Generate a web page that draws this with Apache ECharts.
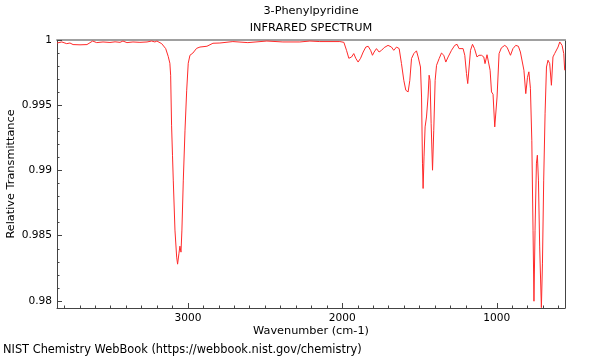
<!DOCTYPE html>
<html>
<head>
<meta charset="utf-8">
<script src="https://cdn.jsdelivr.net/npm/echarts@6/dist/echarts.min.js"></script>
<style>html,body{margin:0;padding:0;background:#fff}#c{width:600px;height:360px}</style>
</head>
<body>
<div id="c"></div>
<script>
// Wavenumber (cm-1), left to right
var wavenumbers = [3848,3817,3785,3764,3744,3699,3654,3647,3617,3591,3550,3505,3472,3440,3421,3395,3356,3311,3265,3235,3214,3201,3170,3144,3128,3117,3112,3106,3100,3095,3084,3073,3067,3058,3052,3045,3039,3030,3019,3008,2998,2987,2968,2944,2922,2877,2838,2793,2709,2612,2489,2385,2275,2210,2146,2016,1990,1973,1958,1940,1926,1913,1898,1882,1865,1848,1833,1817,1805,1794,1779,1762,1746,1729,1704,1682,1667,1649,1632,1617,1602,1589,1574,1563,1552,1537,1520,1509,1494,1487,1481,1477,1471,1464,1455,1445,1438,1432,1425,1416,1408,1399,1390,1373,1358,1343,1330,1315,1293,1272,1257,1244,1218,1207,1196,1188,1179,1170,1157,1144,1128,1115,1099,1084,1076,1063,1052,1043,1034,1024,1013,1006,998,985,970,948,933,911,895,877,860,847,835,824,812,801,792,782,773,765,759,752,743,737,730,722,711,704,696,687,678,668,657,646,636,625,614,603,592,586,577,566,560];
// Relative transmittance at each wavenumber
var transmittance = [0.99977,0.99985,0.99972,0.99977,0.99965,0.99963,0.99965,0.99972,0.99992,0.99980,0.99985,0.99981,0.99986,0.99982,0.99992,0.99980,0.99985,0.99982,0.99985,0.99992,0.99985,0.99992,0.99972,0.99934,0.99875,0.99822,0.99730,0.99347,0.99117,0.98926,0.98543,0.98336,0.98282,0.98366,0.98420,0.98374,0.98543,0.98926,0.99309,0.99615,0.99822,0.99883,0.99900,0.99936,0.99946,0.99952,0.99975,0.99977,0.99988,0.99980,0.99992,0.99985,0.99985,0.99992,0.99988,0.99988,0.99982,0.99921,0.99860,0.99870,0.99896,0.99860,0.99831,0.99860,0.99908,0.99946,0.99952,0.99921,0.99883,0.99908,0.99934,0.99908,0.99921,0.99942,0.99959,0.99946,0.99921,0.99946,0.99934,0.99819,0.99691,0.99615,0.99602,0.99691,0.99858,0.99896,0.99917,0.99870,0.99793,0.99563,0.99056,0.98862,0.99104,0.99334,0.99410,0.99563,0.99730,0.99691,0.99362,0.99002,0.99308,0.99691,0.99806,0.99858,0.99900,0.99883,0.99831,0.99870,0.99921,0.99959,0.99967,0.99934,0.99934,0.99883,0.99743,0.99666,0.99793,0.99921,0.99967,0.99934,0.99870,0.99883,0.99883,0.99870,0.99819,0.99887,0.99883,0.99768,0.99602,0.99584,0.99334,0.99321,0.99563,0.99896,0.99940,0.99959,0.99944,0.99883,0.99934,0.99959,0.99952,0.99908,0.99906,0.99768,0.99589,0.99714,0.99756,0.99630,0.99232,0.98542,0.97998,0.98542,0.99056,0.99117,0.98926,0.98414,0.97949,0.98290,0.98926,0.99439,0.99793,0.99845,0.99819,0.99653,0.99870,0.99896,0.99908,0.99946,0.99985,1.00000,0.99959,0.99896,0.99768];

var xMajorTicks = [1000, 2000, 3000];
var xMinorTicks = [600,700,800,900,1000,1100,1200,1300,1400,1500,1600,1700,1800,1900,2000,2100,2200,2300,2400,2500,2600,2700,2800,2900,3000,3100,3200,3300,3400,3500,3600,3700,3800];
var yMajorTicks = [0.98, 0.985, 0.99, 0.995, 1];
var yMinorTicks = [0.98,0.981,0.982,0.983,0.984,0.985,0.986,0.987,0.988,0.989,0.99,0.991,0.992,0.993,0.994,0.995,0.996,0.997,0.998,0.999,1];

var titleText = '3-Phenylpyridine';
var subTitleText = 'INFRARED SPECTRUM';
var footerText = 'NIST Chemistry WebBook (https://webbook.nist.gov/chemistry)';
var xName = 'Wavenumber (cm-1)';
var yName = 'Relative Transmittance';

var xMin = 558, xMax = 3848, yMin = 0.97946, yMax = 1;

var seriesData = wavenumbers.map(function (w, i) { return [w, transmittance[i]]; });

var FONT = 'DejaVu Sans';
var axisColor = '#444';
var gridBox = { left: 57, right: 35, top: 40, bottom: 52, containLabel: false, outerBoundsMode: 'none' };

var chart = echarts.init(document.getElementById('c'), null, { renderer: 'canvas' });
chart.setOption({
  animation: false,
  backgroundColor: '#fff',
  textStyle: { fontFamily: FONT },
  title: [
    { text: titleText, left: 311, top: 6, textAlign: 'center', padding: 0,
      textStyle: { fontSize: 11.3, fontWeight: 'normal', color: '#000', fontFamily: FONT } },
    { text: subTitleText, left: 311, top: 23, textAlign: 'center', padding: 0,
      textStyle: { fontSize: 11.3, fontWeight: 'normal', color: '#000', fontFamily: FONT } },
    { text: footerText, left: 3, top: 345, padding: 0,
      textStyle: { fontSize: 11.4, fontWeight: 'normal', color: '#000', fontFamily: FONT } }
  ],
  grid: [ Object.assign({}, gridBox), Object.assign({}, gridBox) ],
  xAxis: [
    { gridIndex: 0, type: 'value', inverse: true, min: xMin, max: xMax, position: 'bottom',
      axisLine: { show: true, lineStyle: { color: axisColor, width: 1 } },
      axisTick: { show: true, inside: true, length: 5, customValues: xMajorTicks, lineStyle: { color: axisColor } },
      axisLabel: { show: true, customValues: xMajorTicks, fontSize: 10.6, color: '#000', margin: 5, fontFamily: FONT,
        formatter: function (v) { return String(v); } },
      splitLine: { show: false },
      name: xName, nameLocation: 'middle', nameGap: 18, nameMoveOverlap: false,
      nameTextStyle: { fontSize: 11.3, color: '#000', fontFamily: FONT } },
    { gridIndex: 1, type: 'value', inverse: true, min: xMin, max: xMax, position: 'bottom',
      axisLine: { show: false },
      axisTick: { show: true, inside: true, length: 2.5, customValues: xMinorTicks, lineStyle: { color: axisColor } },
      axisLabel: { show: false }, splitLine: { show: false } },
    { gridIndex: 1, type: 'value', inverse: true, min: xMin, max: xMax, position: 'top',
      axisLine: { show: true, lineStyle: { color: '#a0a0a0', width: 2 } },
      axisTick: { show: false }, axisLabel: { show: false }, splitLine: { show: false } }
  ],
  yAxis: [
    { gridIndex: 0, type: 'value', min: yMin, max: yMax, position: 'left',
      axisLine: { show: true, lineStyle: { color: axisColor, width: 1 } },
      axisTick: { show: true, inside: true, length: 5, customValues: yMajorTicks, lineStyle: { color: axisColor } },
      axisLabel: { show: true, customValues: yMajorTicks, fontSize: 10.6, color: '#000', margin: 5, fontFamily: FONT,
        formatter: function (v) { return String(v); } },
      splitLine: { show: false },
      name: yName, nameLocation: 'middle', nameGap: 40, nameMoveOverlap: false,
      nameTextStyle: { fontSize: 11.3, color: '#000', fontFamily: FONT } },
    { gridIndex: 1, type: 'value', min: yMin, max: yMax, position: 'left',
      axisLine: { show: false },
      axisTick: { show: true, inside: true, length: 2.5, customValues: yMinorTicks, lineStyle: { color: axisColor } },
      axisLabel: { show: false }, splitLine: { show: false } },
    { gridIndex: 1, type: 'value', min: yMin, max: yMax, position: 'right',
      axisLine: { show: true, lineStyle: { color: axisColor, width: 1 } },
      axisTick: { show: false }, axisLabel: { show: false }, splitLine: { show: false } }
  ],
  series: [{
    type: 'line', xAxisIndex: 0, yAxisIndex: 0,
    data: seriesData, showSymbol: false, symbol: 'none',
    lineStyle: { color: '#ff2a2a', width: 1 },
    silent: true
  }]
});
</script>
</body>
</html>
